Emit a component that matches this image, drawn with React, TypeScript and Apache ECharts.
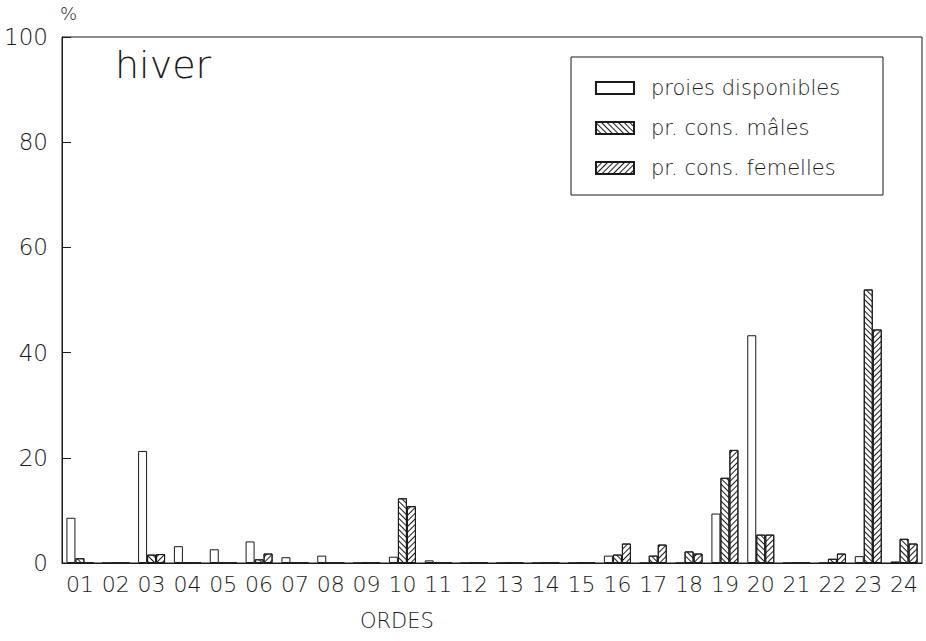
import React, { useEffect, useRef } from "react";
import * as echarts from "echarts";

const categories = ["01","02","03","04","05","06","07","08","09","10","11","12","13","14","15","16","17","18","19","20","21","22","23","24"];
const proies =   [8.6, 0, 21.3, 3.2, 2.6, 4.1, 1.1, 1.4, 0, 1.2, 0.5, 0, 0, 0, 0, 1.4, 0, 0, 9.4, 43.3, 0, 0, 1.3, 0.3];
const males =    [0.9, 0, 1.6, 0, 0, 0.7, 0, 0, 0, 12.3, 0, 0, 0, 0, 0, 1.6, 1.4, 2.2, 16.2, 5.4, 0, 0.8, 52.0, 4.6];
const femelles = [0, 0, 1.7, 0, 0, 1.8, 0, 0, 0, 10.8, 0, 0, 0, 0, 0, 3.7, 3.5, 1.8, 21.5, 5.4, 0, 1.8, 44.4, 3.7];
const seriesNames = ["proies disponibles", "pr. cons. mâles", "pr. cons. femelles"];
const yTicks = { min: 0, max: 100, interval: 20 };

const FONT = "DejaVu Sans";
const INK = "#1a1a1a";

export default function App() {
  const ref = useRef<HTMLDivElement>(null);
  useEffect(() => {
    if (!ref.current) return;
    const chart = echarts.init(ref.current, null, { renderer: "svg" });
    const hatch = (rot: number) => ({
      symbol: "rect",
      symbolSize: 1,
      color: INK,
      backgroundColor: "#fff",
      dashArrayX: [[1, 0]],
      dashArrayY: [1, 2.2],
      rotation: rot,
    });
    const baseItem = { color: "#fff", borderColor: INK, borderWidth: 1 };
    const option: any = {
      animation: false,
      backgroundColor: "#fff",
      grid: {
        left: 62, right: 4, top: 37, bottom: 78,
        show: true, borderColor: INK, borderWidth: 1, backgroundColor: "transparent",
      },
      legend: {
        data: seriesNames,
        orient: "vertical",
        left: 590,
        top: 66,
        itemWidth: 38,
        itemHeight: 12,
        itemGap: 6,
        icon: "rect",
        textStyle: {
          fontSize: 21, fontFamily: FONT, fontWeight: 200, color: INK,
          padding: [12, 0, 0, 12], lineHeight: 22,
        },
      },
      xAxis: {
        type: "category",
        data: categories,
        axisTick: { show: false },
        axisLine: { lineStyle: { color: INK, width: 1 } },
        axisLabel: { interval: 0, margin: 10, fontSize: 22, fontFamily: FONT, fontWeight: 200, color: INK },
      },
      yAxis: {
        type: "value",
        min: yTicks.min, max: yTicks.max, interval: yTicks.interval,
        axisLine: { show: true, lineStyle: { color: INK, width: 1 } },
        axisTick: { show: true, inside: true, length: 9, lineStyle: { color: INK } },
        splitLine: { show: false },
        axisLabel: { margin: 14, fontSize: 23, fontFamily: FONT, fontWeight: 200, color: INK },
      },
      series: [
        { name: seriesNames[0], type: "bar", data: proies, barWidth: 9, barGap: "0%", itemStyle: { ...baseItem } },
        { name: seriesNames[1], type: "bar", data: males, barWidth: 9, barGap: "0%", itemStyle: { ...baseItem, decal: hatch(Math.PI / 4) } },
        { name: seriesNames[2], type: "bar", data: femelles, barWidth: 9, barGap: "0%", itemStyle: { ...baseItem, decal: hatch(-Math.PI / 4) } },
      ],
      graphic: [
        { type: "rect", shape: { x: 571, y: 57, width: 312, height: 138 }, style: { fill: "none", stroke: INK, lineWidth: 1 }, z: 1 },
        { type: "text", x: 115, y: 46, style: { text: "hiver", fontSize: 38, fontFamily: FONT, fontWeight: 200, fill: INK } },
        { type: "text", x: 60, y: 4, style: { text: "%", fontSize: 18, fontFamily: FONT, fontWeight: 200, fill: INK } },
        { type: "text", x: 360, y: 610, style: { text: "ORDES", fontSize: 21, fontFamily: FONT, fontWeight: 200, fill: INK } },
      ],
    };
    chart.setOption(option);
    return () => chart.dispose();
  }, []);
  return <div ref={ref} style={{ width: 926, height: 641, position: "absolute", left: 0, top: 0 }} />;
}
